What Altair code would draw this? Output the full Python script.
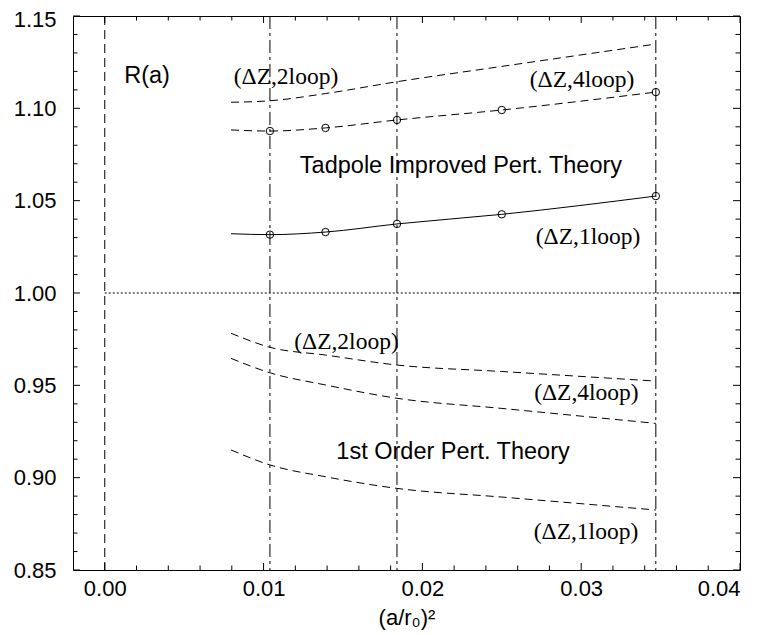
import altair as alt
import pandas as pd

# ---------------- data ----------------
x_pts = [0.00795, 0.0104, 0.0139, 0.0184, 0.0250, 0.0347]

tp_2loop = [1.1033, 1.1041, 1.1080, 1.1144, 1.1227, 1.1348]
tp_4loop = [1.0883, 1.0877, 1.0894, 1.0937, 1.0991, 1.1088]
tp_1loop = [1.0321, 1.0316, 1.0330, 1.0374, 1.0426, 1.0525]
fo_2loop = [0.9782, 0.9706, 0.9664, 0.9610, 0.9575, 0.9523]
fo_4loop = [0.9646, 0.9568, 0.9502, 0.9430, 0.9375, 0.9294]
fo_1loop = [0.9150, 0.9069, 0.9005, 0.8942, 0.8895, 0.8825]

vlines_dashdot = [0.0104, 0.0184, 0.0347]
vline_dashed = [0.0]
hline_y = [1.0]
hline_x = [0.0]
hline_x2 = [0.04]

x_major = [0.00, 0.01, 0.02, 0.03, 0.04]
x_minor = [0.002, 0.004, 0.006, 0.008, 0.012, 0.014, 0.016, 0.018,
           0.022, 0.024, 0.026, 0.028, 0.032, 0.034, 0.036, 0.038]
y_major = [0.85, 0.90, 0.95, 1.00, 1.05, 1.10, 1.15]
y_minor = [0.86, 0.87, 0.88, 0.89, 0.91, 0.92, 0.93, 0.94, 0.96, 0.97, 0.98, 0.99,
           1.01, 1.02, 1.03, 1.04, 1.06, 1.07, 1.08, 1.09, 1.11, 1.12, 1.13, 1.14]

serif_labels = ["(ΔZ,2loop)", "(ΔZ,4loop)", "(ΔZ,1loop)",
                "(ΔZ,2loop)", "(ΔZ,4loop)", "(ΔZ,1loop)"]
serif_x = [0.01141, 0.03005, 0.03043, 0.01522, 0.03033, 0.0303]
serif_y = [1.1170, 1.1156, 1.0301, 0.9732, 0.9458, 0.8706]

sans_labels = ["R(a)", "Tadpole Improved Pert. Theory", "1st Order Pert. Theory"]
sans_x = [0.00266, 0.02243, 0.02193]
sans_y = [1.1175, 1.0688, 0.9139]

# ---------------- frames ----------------
dashed_series = {"tp2": tp_2loop, "tp4": tp_4loop, "fo2": fo_2loop,
                 "fo4": fo_4loop, "fo1": fo_1loop}
dashed_df = pd.DataFrame([
    {"x": x, "y": y, "s": k}
    for k, ys in dashed_series.items() for x, y in zip(x_pts, ys)
])
solid_df = pd.DataFrame({"x": x_pts, "y": tp_1loop})
points_df = pd.DataFrame({
    "x": x_pts[1:] + x_pts[1:],
    "y": tp_4loop[1:] + tp_1loop[1:],
})
serif_df = pd.DataFrame({"t": serif_labels, "x": serif_x, "y": serif_y})
sans_df = pd.DataFrame({"t": sans_labels, "x": sans_x, "y": sans_y})

W, H = 667, 554
SANS = "Liberation Sans"
SERIF = "Liberation Serif"

xs = alt.Scale(domain=[-0.002, 0.04], nice=False, zero=False)
ys = alt.Scale(domain=[0.85, 1.15], nice=False, zero=False)

AX = alt.Axis(
    values=x_major, format=".2f", ticks=False, domain=False, grid=False,
    labelFontSize=22, labelFont=SANS, labelColor="black", labelPadding=8,
    title="(a/r₀)²", titleFont=SANS, titleFontSize=22, titleFontWeight="normal",
    titleColor="black", titlePadding=8)
AY = alt.Axis(
    values=y_major, format=".2f", ticks=False, domain=False, grid=False,
    labelFontSize=22, labelFont=SANS, labelColor="black", labelPadding=17,
    labelOffset={"condition": {"test": "datum.value > 1.149", "value": 3}, "value": 0},
    title=None)

def X(f="x"):
    return alt.X(f"{f}:Q", scale=xs, axis=AX, title="(a/r₀)²")

def Y(f="y"):
    return alt.Y(f"{f}:Q", scale=ys, axis=AY, title=None)

# tick marks (inward, on all four sides)
def xticks(vals, L):
    d = pd.DataFrame({"x": vals})
    b = alt.Chart(d).mark_rule(color="black", strokeWidth=1).encode(
        x=X(), y=alt.value(H), y2=alt.value(H - L))
    t = alt.Chart(d).mark_rule(color="black", strokeWidth=1).encode(
        x=X(), y=alt.value(0), y2=alt.value(L))
    return b + t

def yticks(vals, L):
    d = pd.DataFrame({"y": vals})
    l = alt.Chart(d).mark_rule(color="black", strokeWidth=1).encode(
        y=Y(), x=alt.value(0), x2=alt.value(L))
    r = alt.Chart(d).mark_rule(color="black", strokeWidth=1).encode(
        y=Y(), x=alt.value(W), x2=alt.value(W - L))
    return l + r

ticks = xticks(x_major, 7) + xticks(x_minor, 4.5) + yticks(y_major, 7) + yticks(y_minor, 4.5)

vdash = alt.Chart(pd.DataFrame({"x": vline_dashed})).mark_rule(
    color="black", strokeWidth=1, strokeDash=[9, 5]).encode(x=X())
vdd = alt.Chart(pd.DataFrame({"x": vlines_dashdot})).mark_rule(
    color="black", strokeWidth=1, strokeDash=[13, 4, 3, 4]).encode(x=X())
hdot = alt.Chart(pd.DataFrame({"x": hline_x, "x2": hline_x2, "y": hline_y})).mark_rule(
    color="black", strokeWidth=1, strokeDash=[2, 2]).encode(
    x=X(), x2="x2:Q", y=Y())

dashed = alt.Chart(dashed_df).mark_line(
    color="black", strokeWidth=1, strokeDash=[8, 5], interpolate="monotone").encode(
    x=X(), y=Y(), detail="s:N")
solid = alt.Chart(solid_df).mark_line(
    color="black", strokeWidth=1, interpolate="monotone").encode(x=X(), y=Y())
pts = alt.Chart(points_df).mark_point(
    shape="circle", filled=False, color="black", strokeWidth=1, size=55, opacity=1).encode(
    x=X(), y=Y())

serif_txt = alt.Chart(serif_df).mark_text(
    font=SERIF, fontSize=23.5, color="black", align="center", baseline="middle").encode(
    x=X(), y=Y(), text="t:N")
sans_txt = alt.Chart(sans_df).mark_text(
    font=SANS, fontSize=23.5, color="black", align="center", baseline="middle").encode(
    x=X(), y=Y(), text="t:N")

chart = alt.layer(
    ticks, vdash, vdd, hdot, dashed, solid, pts, serif_txt, sans_txt
).properties(
    width=W, height=H,
    autosize=alt.AutoSizeParams(type="none"),
    padding={"left": 65, "top": 8, "right": 16, "bottom": 65},
).configure_view(stroke="black", strokeWidth=1)

chart.save("out.html", embed_options={"renderer": "svg", "actions": False})
